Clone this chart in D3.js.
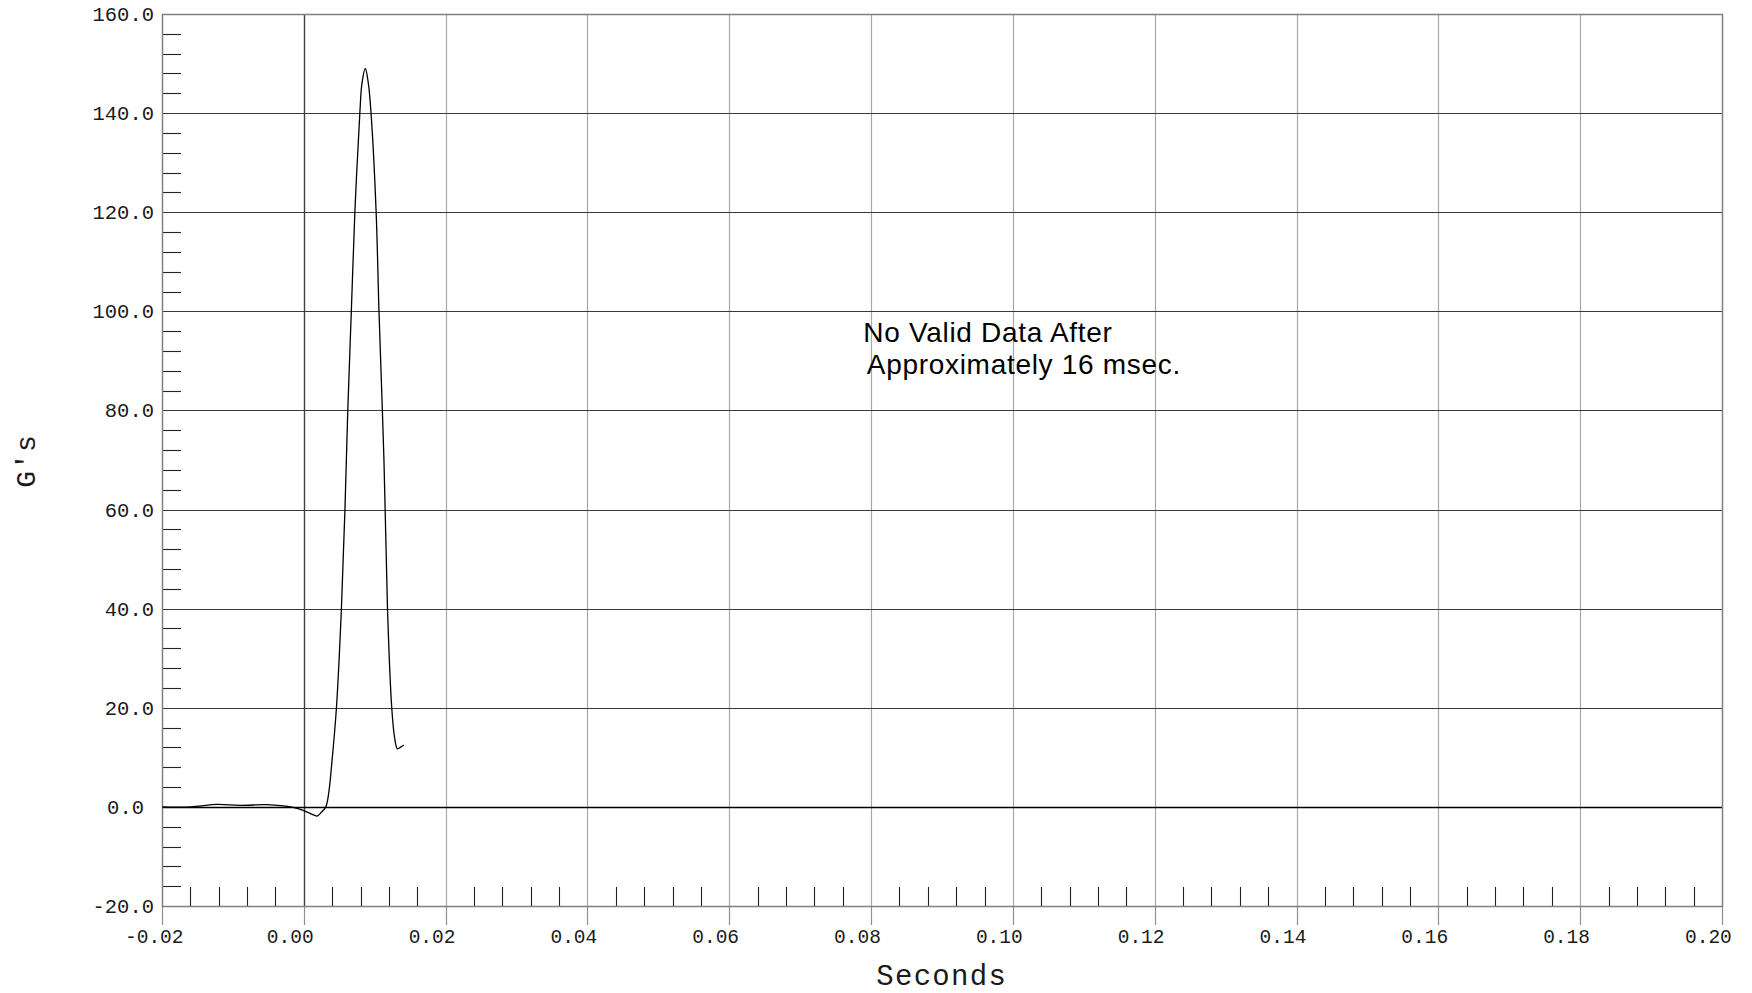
<!DOCTYPE html>
<html>
<head>
<meta charset="utf-8">
<script src="https://cdn.jsdelivr.net/npm/d3@7"></script>
<style>
  html, body { margin: 0; padding: 0; background: #fff; }
  svg { display: block; }
</style>
</head>
<body>
<svg id="chart" width="1752" height="993"></svg>
<script>
// ---- data ----
const timeSec = [-0.0200, -0.0160, -0.0122, -0.0090, -0.0052, -0.0029, -0.0015, 0.0000, 0.0010, 0.0019,
  0.0024, 0.0031, 0.0035, 0.0039, 0.0046, 0.0053, 0.0058, 0.0062, 0.0067, 0.0072, 0.0079, 0.0082,
  0.00867, 0.0091, 0.00948, 0.0102, 0.0106, 0.0113, 0.0118, 0.0124, 0.0128, 0.0132, 0.0136, 0.0141];
const accelG = [0.0, 0.0, 0.5, 0.3, 0.45, 0.2, -0.1, -0.77, -1.4, -1.84,
  -1.2, 0.0, 2.7, 8.1, 20, 40, 60, 80, 100, 120, 140, 146,
  149, 146, 140, 120, 100, 70, 40, 20, 14, 11.7, 12.0, 12.5];
const xTickValues = [-0.02, 0.00, 0.02, 0.04, 0.06, 0.08, 0.10, 0.12, 0.14, 0.16, 0.18, 0.20];
const xTickLabels = ["-0.02", "0.00", "0.02", "0.04", "0.06", "0.08", "0.10", "0.12", "0.14", "0.16", "0.18", "0.20"];
const yTickValues = [-20, 0, 20, 40, 60, 80, 100, 120, 140, 160];
const yTickLabels = ["-20.0", "0.0", "20.0", "40.0", "60.0", "80.0", "100.0", "120.0", "140.0", "160.0"];
const xDomain = [-0.02, 0.20];
const yDomain = [-20, 160];
const xMinorStep = 0.004;
const yMinorStep = 4;
const xTitle = "Seconds";
const yTitle = "G's";
const noteLines = ["No Valid Data After", "Approximately 16 msec."];
const noteAt = [0.0789, 93.9]; // data-space anchor of the note

// ---- layout ----
const svg = d3.select("#chart");
const L = 162, R = 1722, T = 14, B = 906;
const x = d3.scaleLinear().domain(xDomain).range([L, R]);
const y = d3.scaleLinear().domain(yDomain).range([B, T]);
const mono = "'Liberation Mono', 'Courier New', Courier, monospace";

const g = svg.append("g");

// vertical gridlines
g.append("g").selectAll("line").data(xTickValues.filter(v => v > xDomain[0] && v < xDomain[1]))
  .join("line")
  .attr("x1", d => Math.round(x(d)) + 0.5).attr("x2", d => Math.round(x(d)) + 0.5)
  .attr("y1", T).attr("y2", B)
  .attr("stroke", d => Math.abs(d) < 1e-9 ? "#404040" : "#a8a8a8")
  .attr("stroke-width", d => Math.abs(d) < 1e-9 ? 1.4 : 1.2);

// horizontal gridlines
g.append("g").selectAll("line").data(yTickValues.filter(v => v > yDomain[0] && v < yDomain[1]))
  .join("line")
  .attr("x1", L).attr("x2", R)
  .attr("y1", d => Math.round(y(d)) + 0.5).attr("y2", d => Math.round(y(d)) + 0.5)
  .attr("stroke", d => d === 0 ? "#000" : "#3a3a3a")
  .attr("stroke-width", d => d === 0 ? 1.3 : 1.1);

// minor ticks on y (inside, from left axis)
const yMinor = d3.range(yDomain[0], yDomain[1] + 0.001, yMinorStep).filter(v => Math.abs(v % 20) > 1e-6);
g.append("g").selectAll("line").data(yMinor).join("line")
  .attr("x1", L).attr("x2", L + 19)
  .attr("y1", d => Math.round(y(d)) + 0.5).attr("y2", d => Math.round(y(d)) + 0.5)
  .attr("stroke", "#222").attr("stroke-width", 1.1);

// minor ticks on x (inside, from bottom axis)
const xMinor = d3.range(0, 56).map(i => xDomain[0] + i * xMinorStep)
  .filter(v => v < xDomain[1] + 1e-9)
  .filter(v => Math.abs(Math.round(v / 0.02) * 0.02 - v) > 1e-6);
g.append("g").selectAll("line").data(xMinor).join("line")
  .attr("x1", d => Math.round(x(d)) + 0.5).attr("x2", d => Math.round(x(d)) + 0.5)
  .attr("y1", B).attr("y2", B - 19)
  .attr("stroke", "#222").attr("stroke-width", 1.1);

// major x ticks below axis
g.append("g").selectAll("line").data(xTickValues).join("line")
  .attr("x1", d => Math.round(x(d)) + 0.5).attr("x2", d => Math.round(x(d)) + 0.5)
  .attr("y1", B).attr("y2", B + 19)
  .attr("stroke", "#909090").attr("stroke-width", 1.2);

// frame
g.append("rect").attr("x", L + 0.5).attr("y", T + 0.5)
  .attr("width", R - L).attr("height", B - T)
  .attr("fill", "none").attr("stroke", "#808080").attr("stroke-width", 1.5);

// x tick labels
g.append("g").selectAll("text").data(xTickValues).join("text")
  .attr("x", d => x(d) - 37).attr("y", B + 37)
  .attr("text-anchor", "start")
  .attr("font-family", mono).attr("font-size", 19.5).attr("fill", "#1a1a1a")
  .text((d, i) => xTickLabels[i]);

// y tick labels
g.append("g").selectAll("text").data(yTickValues).join("text")
  .attr("x", d => d === 0 ? 144 : 154).attr("y", d => y(d))
  .attr("dy", "0.34em")
  .attr("text-anchor", "end")
  .attr("font-family", mono).attr("font-size", 20.5).attr("fill", "#1a1a1a")
  .text((d, i) => yTickLabels[i]);

// axis titles
svg.append("text")
  .attr("x", (L + R) / 2 - 0.3).attr("y", 985)
  .attr("text-anchor", "middle")
  .attr("font-family", mono).attr("font-size", 29).attr("letter-spacing", 1.3)
  .attr("fill", "#1a1a1a").text(xTitle);

svg.append("text")
  .attr("transform", "translate(35,461) rotate(-90)")
  .attr("text-anchor", "middle")
  .attr("font-family", mono).attr("font-size", 28).attr("letter-spacing", 1)
  .attr("fill", "#1a1a1a").text(yTitle);

// data line
const line = d3.line().x((d, i) => x(timeSec[i])).y(d => y(d)).curve(d3.curveCatmullRom.alpha(0.5));
g.append("path").datum(accelG)
  .attr("d", line)
  .attr("fill", "none").attr("stroke", "#000").attr("stroke-width", 1.3);

// annotation
const note = svg.append("text")
  .attr("font-family", "'Liberation Sans', Arial, sans-serif")
  .attr("font-size", 28).attr("letter-spacing", 0.7).attr("fill", "#000");
noteLines.forEach((t, i) => {
  note.append("tspan")
    .attr("x", x(noteAt[0]) + (i === 0 ? 0 : 3.5)).attr("y", y(noteAt[1]) + i * 32.3)
    .text(t);
});
</script>
</body>
</html>
